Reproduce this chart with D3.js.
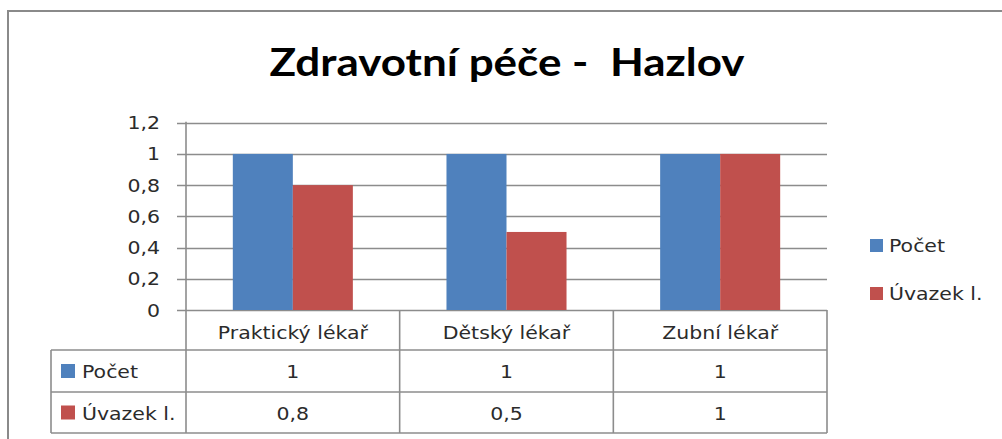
<!DOCTYPE html>
<html>
<head>
<meta charset="utf-8">
<script src="https://cdn.jsdelivr.net/npm/d3@7"></script>
<style>
  html, body { margin: 0; padding: 0; background: #fff; }
  svg { display: block; }
</style>
</head>
<body>
<svg id="chart" width="1002" height="439"></svg>
<script>
// Data
const title = "Zdravotní péče -  Hazlov";
const categories = ["Praktický lékař", "Dětský lékař", "Zubní lékař"];
const seriesNames = ["Počet", "Úvazek l."];
const pocet = [1, 1, 1];
const uvazek = [0.8, 0.5, 1];
const valueLabels = [["1", "1", "1"], ["0,8", "0,5", "1"]];
const yTicks = [0, 0.2, 0.4, 0.6, 0.8, 1, 1.2];

const seriesValues = [pocet, uvazek];
const colors = ["#4f81bd", "#c0504d"];
const gridColor = "#8c8c8c";
const textColor = "#2b2b2b";
const bodyFont = "'DejaVu Sans', sans-serif";
const bodySize = 17.5;
const stretch = 1.17; // horizontal widening of label glyphs

const svg = d3.select("#chart");

// Chart frame (top and left edges visible)
svg.append("path")
  .attr("d", "M8,439 V11 H1002")
  .attr("fill", "none")
  .attr("stroke", "#8a8a8a")
  .attr("stroke-width", 2);

// Text helper with horizontal stretch around the anchor point
function label(g, x, y, str, opts = {}) {
  return g.append("g")
    .attr("transform", `translate(${x},${y}) scale(${opts.sx || stretch},1)`)
    .append("text")
    .attr("x", 0).attr("y", 0)
    .attr("text-anchor", opts.anchor || "start")
    .attr("font-family", opts.font || bodyFont)
    .attr("font-size", opts.size || bodySize)
    .attr("fill", opts.fill || textColor)
    .text(str);
}

// Title, fitted to its span
svg.append("text")
  .attr("x", 507).attr("y", 76)
  .attr("text-anchor", "middle")
  .attr("font-family", "Lato, 'Open Sans', sans-serif")
  .attr("font-weight", 700)
  .attr("font-size", 39)
  .attr("fill", "#000")
  .attr("xml:space", "preserve")
  .style("white-space", "pre")
  .attr("textLength", 475)
  .attr("lengthAdjust", "spacingAndGlyphs")
  .text(title);

// Scales
const plotLeft = 186, plotRight = 827, plotTop = 122.7, plotBottom = 310;
const y = d3.scaleLinear().domain([0, 1.2]).range([plotBottom, plotTop]);
const x0 = d3.scaleBand().domain(categories).range([plotLeft, plotRight]).paddingInner(0).paddingOuter(0);
const x1 = d3.scaleBand().domain(seriesNames).range([0, x0.bandwidth()]).paddingInner(0).paddingOuter(0.78);
const fmt = v => String(v).replace(".", ",");

// Gridlines, extending left of the axis as tick marks
const grid = svg.append("g");
grid.selectAll("line.grid").data(yTicks).join("line")
  .attr("class", "grid")
  .attr("x1", plotLeft - 9).attr("x2", plotRight)
  .attr("y1", d => Math.round(y(d)) + 0.5).attr("y2", d => Math.round(y(d)) + 0.5)
  .attr("stroke", gridColor).attr("stroke-width", 1.3);

// Bars
const bars = svg.append("g");
seriesNames.forEach((s, si) => {
  bars.selectAll(`rect.s${si}`).data(categories).join("rect")
    .attr("class", `s${si}`)
    .attr("x", c => x0(c) + x1(s))
    .attr("width", x1.bandwidth())
    .attr("y", (c, i) => y(seriesValues[si][i]))
    .attr("height", (c, i) => y(0) - y(seriesValues[si][i]))
    .attr("fill", colors[si]);
});

// Tick labels
const tl = svg.append("g");
yTicks.forEach(v => {
  label(tl, 160, y(v) + 6.5, fmt(v), { anchor: "end" });
});

// Data table under the axis
const rowY = [310, 350, 392, 433];
const tableLeft = 51;
const tbl = svg.append("g").attr("stroke", gridColor).attr("stroke-width", 1.6).attr("fill", "none");
const colEdges = [plotLeft].concat(categories.map(c => x0(c) + x0.bandwidth()));
colEdges.forEach(xe => {
  tbl.append("line").attr("x1", xe).attr("x2", xe)
    .attr("y1", xe === plotLeft ? plotTop - 1 : plotBottom)
    .attr("y2", rowY[3]);
});
tbl.append("line").attr("x1", tableLeft).attr("x2", tableLeft).attr("y1", rowY[1]).attr("y2", rowY[3]);
[rowY[1], rowY[2], rowY[3]].forEach(ry => {
  tbl.append("line").attr("x1", tableLeft).attr("x2", plotRight).attr("y1", ry).attr("y2", ry);
});

// Category headers
const tt = svg.append("g");
categories.forEach(c => {
  label(tt, x0(c) + x0.bandwidth() / 2, 339, c, { anchor: "middle" });
});

// Series rows with legend keys and values
seriesNames.forEach((s, si) => {
  const top = rowY[si + 1], bot = rowY[si + 2];
  const mid = (top + bot) / 2;
  tt.append("rect").attr("x", 61).attr("y", mid - 7).attr("width", 14).attr("height", 14).attr("fill", colors[si]);
  label(tt, 82, mid + 7, s);
  categories.forEach((c, ci) => {
    label(tt, x0(c) + x0.bandwidth() / 2, mid + 7, valueLabels[si][ci], { anchor: "middle" });
  });
});

// Legend on the right
const legY = [245.5, 293.5];
seriesNames.forEach((s, si) => {
  tt.append("rect").attr("x", 870).attr("y", legY[si] - 6.5).attr("width", 13).attr("height", 13).attr("fill", colors[si]);
  label(tt, 889, legY[si] + 6.5, s);
});
</script>
</body>
</html>
